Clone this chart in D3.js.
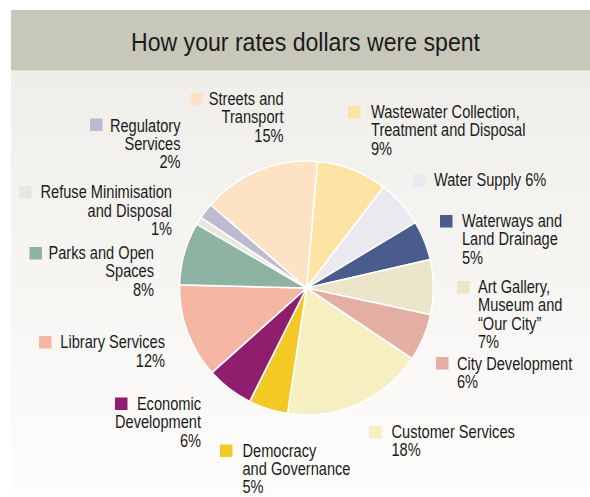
<!DOCTYPE html>
<html>
<head>
<meta charset="utf-8">
<script src="https://cdn.jsdelivr.net/npm/d3@7/dist/d3.min.js"></script>
<style>
  html, body { margin: 0; padding: 0; background: #ffffff; }
  svg { display: block; }
  text { font-family: "Liberation Sans", Arial, sans-serif; fill: #1b1b1b; }
</style>
</head>
<body>
<svg id="chart" width="590" height="497"></svg>
<script>
// ---- data ----
const title = "How your rates dollars were spent";
const categories = [
  "Wastewater Collection, Treatment and Disposal",
  "Water Supply",
  "Waterways and Land Drainage",
  "Art Gallery, Museum and \u201cOur City\u201d",
  "City Development",
  "Customer Services",
  "Democracy and Governance",
  "Economic Development",
  "Library Services",
  "Parks and Open Spaces",
  "Refuse Minimisation and Disposal",
  "Regulatory Services",
  "Streets and Transport"
];
const values = [9, 6, 5, 7, 6, 18, 5, 6, 12, 8, 1, 2, 15];
const labelLines = [
  ["Wastewater Collection,", "Treatment and Disposal", "9%"],
  ["Water Supply 6%"],
  ["Waterways and", "Land Drainage", "5%"],
  ["Art Gallery,", "Museum and", "\u201cOur City\u201d", "7%"],
  ["City Development", "6%"],
  ["Customer Services", "18%"],
  ["Democracy", "and Governance", "5%"],
  ["Economic", "Development", "6%"],
  ["Library Services", "12%"],
  ["Parks and Open", "Spaces", "8%"],
  ["Refuse Minimisation", "and Disposal", "1%"],
  ["Regulatory", "Services", "2%"],
  ["Streets and", "Transport", "15%"]
];
const colors = [
  "#fde4a4", "#ebe9f0", "#4a5c8b", "#ede5c9", "#e3afa3", "#f6efc2",
  "#f4c926", "#8f1f6e", "#f5b6a4", "#8fb3a3", "#e8e7de", "#bdbad1", "#fde2c5"
];

// ---- layout (label placement: swatch x/y, text anchor x, first baseline, alignment) ----
const labelLayout = [
  { sx: 348, sy: 106, tx: 371, ty: 118, anchor: "start" },
  { sx: 413, sy: 174, tx: 434, ty: 186, anchor: "start" },
  { sx: 440, sy: 215, tx: 462, ty: 227, anchor: "start" },
  { sx: 457, sy: 281, tx: 478, ty: 293, anchor: "start" },
  { sx: 436, sy: 357, tx: 457, ty: 369.5, anchor: "start" },
  { sx: 369, sy: 426, tx: 391.5, ty: 437.5, anchor: "start" },
  { sx: 220, sy: 444.5, tx: 242.5, ty: 456.5, anchor: "start" },
  { sx: 115, sy: 397.5, tx: 201, ty: 410, anchor: "end" },
  { sx: 39, sy: 336, tx: 165, ty: 348.3, anchor: "end" },
  { sx: 29.5, sy: 247, tx: 154, ty: 259, anchor: "end" },
  { sx: 19, sy: 186, tx: 172, ty: 198.3, anchor: "end" },
  { sx: 90, sy: 118.5, tx: 180.5, ty: 131.5, anchor: "end" },
  { sx: 190, sy: 93, tx: 283.5, ty: 105, anchor: "end" }
];
const lineHeight = 18.4;
const condense = 0.835;

const svg = d3.select("#chart");
const defs = svg.append("defs");
const grad = defs.append("linearGradient").attr("id", "bg").attr("x1", 0).attr("y1", 0).attr("x2", 0).attr("y2", 1);
grad.append("stop").attr("offset", "0%").attr("stop-color", "#efeeea");
grad.append("stop").attr("offset", "100%").attr("stop-color", "#fefdfc");

// panel background
svg.append("rect").attr("x", 11).attr("y", 70.5).attr("width", 579).attr("height", 426.5).attr("fill", "url(#bg)");
// title band
svg.append("rect").attr("x", 11).attr("y", 10).attr("width", 579).attr("height", 60.5).attr("fill", "#c7c8ba");
svg.append("text")
  .attr("x", 305.5).attr("y", 50.8)
  .attr("text-anchor", "middle")
  .style("font-size", "26.5px")
  .attr("textLength", 349).attr("lengthAdjust", "spacingAndGlyphs")
  .text(title);

// pie
const cx = 306.5, cy = 288, radius = 127;
const startDeg = 5;
const pie = d3.pie().sort(null).value(d => d)
  .startAngle(startDeg * Math.PI / 180)
  .endAngle((startDeg + 360) * Math.PI / 180);
const arc = d3.arc().innerRadius(0).outerRadius(radius);
const color = d3.scaleOrdinal().domain(categories).range(colors);

const g = svg.append("g").attr("transform", `translate(${cx},${cy})`);
g.selectAll("path")
  .data(pie(values))
  .join("path")
  .attr("d", arc)
  .attr("fill", (d, i) => color(categories[i]))
  .attr("stroke", "#ffffff")
  .attr("stroke-width", 1.6)
  .attr("stroke-linejoin", "round");

// labels
const lg = svg.append("g");
categories.forEach((c, i) => {
  const L = labelLayout[i];
  lg.append("rect").attr("x", L.sx).attr("y", L.sy).attr("width", 12.5).attr("height", 12.5).attr("fill", color(c));
  const t = lg.append("g")
    .attr("transform", `translate(${L.tx},${L.ty}) scale(${condense},1)`)
    .append("text").attr("text-anchor", L.anchor).style("font-size", "17.5px");
  labelLines[i].forEach((ln, j) => {
    t.append("tspan").attr("x", 0).attr("y", j * lineHeight).text(ln);
  });
});
</script>
</body>
</html>
